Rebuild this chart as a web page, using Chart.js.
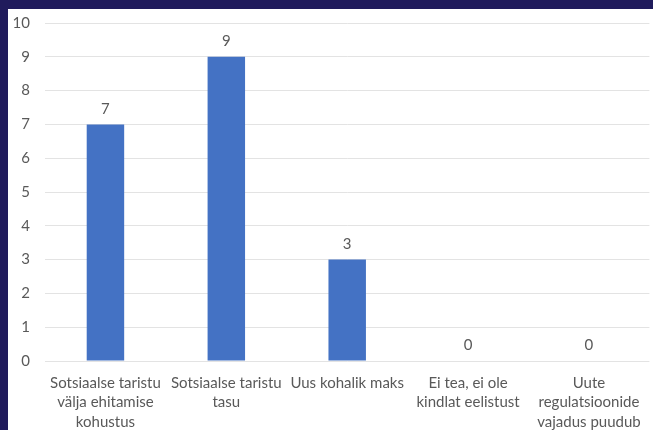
<!DOCTYPE html>
<html>
<head>
<meta charset="utf-8">
<script src="https://cdn.jsdelivr.net/npm/chart.js@4"></script>
<style>
  html, body { margin: 0; padding: 0; }
  body { background: #201b5c; width: 653px; height: 430px; overflow: hidden; position: relative; }
  #box { position: absolute; left: 8px; top: 9px; width: 645px; height: 421px; background: #fff; }
</style>
</head>
<body>
<div id="box"><canvas id="chart" width="645" height="421"></canvas></div>
<script>
const categories = [
  ['Sotsiaalse taristu', 'välja ehitamise', 'kohustus'],
  ['Sotsiaalse taristu', 'tasu'],
  ['Uus kohalik maks'],
  ['Ei tea, ei ole', 'kindlat eelistust'],
  ['Uute', 'regulatsioonide', 'vajadus puudub']
];
const counts = [7, 9, 3, 0, 0];
const yTicks = [0, 1, 2, 3, 4, 5, 6, 7, 8, 9, 10];

const textColor = '#595959';
const fontFamily = 'Lato, "Open Sans", sans-serif';

// simple value labels above bars
const valueLabels = {
  id: 'valueLabels',
  afterDatasetsDraw(chart) {
    const ctx = chart.ctx;
    const meta = chart.getDatasetMeta(0);
    ctx.save();
    ctx.fillStyle = textColor;
    ctx.font = '15px ' + fontFamily;
    ctx.textAlign = 'center';
    ctx.textBaseline = 'bottom';
    meta.data.forEach((bar, i) => {
      ctx.fillText(String(counts[i]), bar.x, bar.y - 8);
    });
    ctx.restore();
  }
};

new Chart(document.getElementById('chart'), {
  type: 'bar',
  data: {
    labels: categories,
    datasets: [{
      data: counts,
      backgroundColor: '#4472c4',
      borderWidth: 0,
      categoryPercentage: 1,
      barPercentage: 0.31
    }]
  },
  options: {
    responsive: false,
    animation: false,
    layout: { padding: { top: 0, right: 3, left: 0, bottom: 0 } },
    plugins: {
      legend: { display: false },
      tooltip: { enabled: false }
    },
    scales: {
      y: {
        min: 0,
        max: 10,
        afterBuildTicks: (axis) => { axis.ticks = yTicks.map(v => ({ value: v })); },
        afterFit: (axis) => {
          axis.width = 37;
          axis.paddingTop = 14;
          axis.paddingBottom = 0;
        },
        border: { display: false },
        grid: { color: '#e3e3e3', drawTicks: false, lineWidth: 1 },
        ticks: {
          color: textColor,
          padding: 15,
          font: { size: 15, family: fontFamily }
        }
      },
      x: {
        afterFit: (axis) => { axis.height = 69; },
        border: { display: false },
        grid: { display: false, drawTicks: false },
        ticks: {
          color: textColor,
          padding: 12,
          maxRotation: 0,
          autoSkip: false,
          font: { size: 15, family: fontFamily, lineHeight: 1.3 }
        }
      }
    }
  },
  plugins: [valueLabels]
});
</script>
</body>
</html>
